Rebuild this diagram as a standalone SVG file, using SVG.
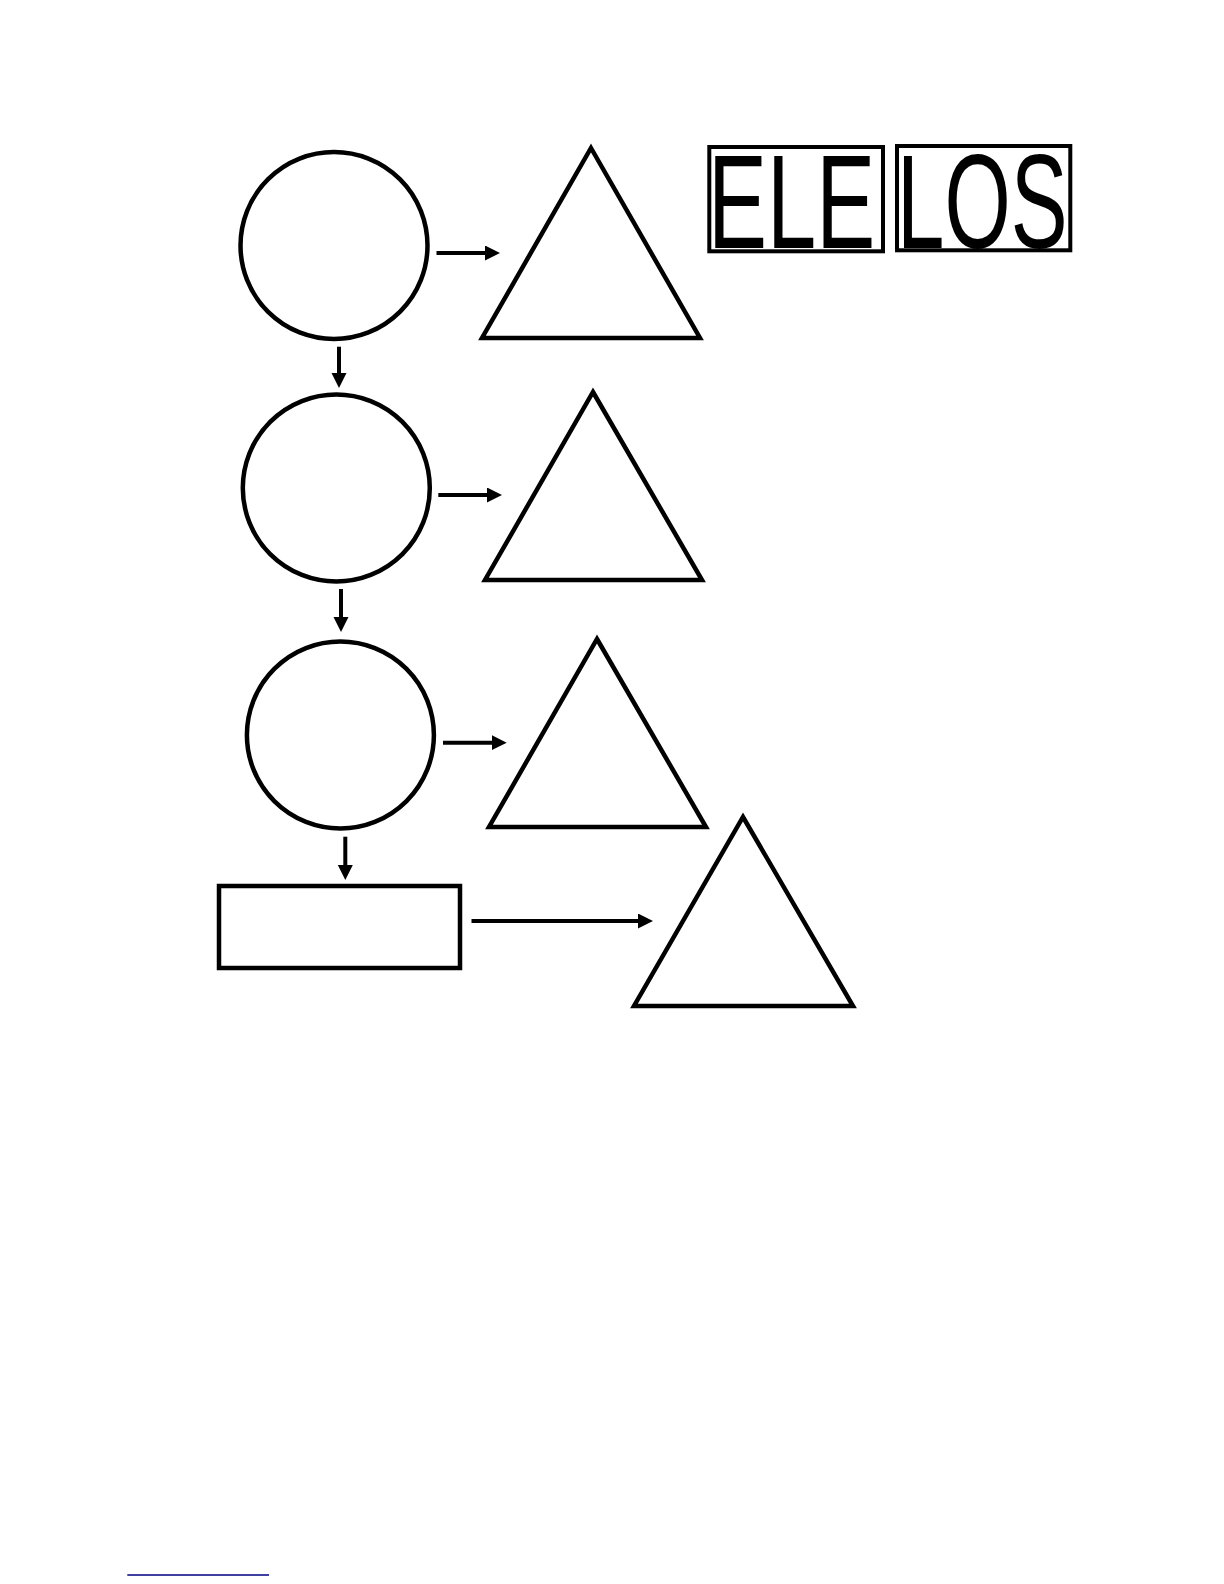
<svg xmlns="http://www.w3.org/2000/svg" width="1224" height="1584" viewBox="0 0 1224 1584">
  <defs>
    <marker id="arrow" markerUnits="userSpaceOnUse" markerWidth="18" markerHeight="16" refX="3" refY="7.5" orient="auto">
      <path d="M0,0 L15,7.5 L0,15 z" fill="#000"/>
    </marker>
    <style>
      .shape { fill: #fff; stroke: #000; stroke-width: 4.5; }
      .conn { stroke: #000; stroke-width: 4; fill: none; marker-end: url(#arrow); }
      .box { fill: #fff; stroke: #000; stroke-width: 4; }
      .seg { font-family: "Liberation Sans", Arial, sans-serif; font-size: 134px; fill: #000; }
    </style>
  </defs>
  <rect width="1224" height="1584" fill="#fff"/>

  <g id="circle1"><circle class="shape" cx="334" cy="245.5" r="93.5"/></g>
  <g id="circle2"><circle class="shape" cx="336.3" cy="488" r="93.5"/></g>
  <g id="circle3"><circle class="shape" cx="340.4" cy="735" r="93.5"/></g>
  <g id="box1"><rect class="shape" x="219" y="886" width="241" height="82"/></g>

  <g id="triangle1"><polygon class="shape" points="591,148 700,338 482,338"/></g>
  <g id="triangle2"><polygon class="shape" points="593,392 702,580 485,580"/></g>
  <g id="triangle3"><polygon class="shape" points="597,639 706,827 489,827"/></g>
  <g id="triangle4"><polygon class="shape" points="743,817 853,1006 634,1006"/></g>

  <g id="label-ele">
    <rect class="box" x="709.3" y="147" width="173.7" height="104.3"/>
    <text class="seg" transform="translate(708,248) scale(0.66,1)" x="0" y="0">ELE</text>
  </g>
  <g id="label-los">
    <rect class="box" x="897" y="146" width="173.3" height="104.3"/>
    <text class="seg" transform="translate(897,248) scale(0.636,1)" x="0" y="0">LOS</text>
  </g>

  <g id="connectors">
    <line class="conn" x1="436.5" y1="253" x2="488" y2="253"/>
    <line class="conn" x1="438.3" y1="495" x2="490" y2="495"/>
    <line class="conn" x1="443" y1="742.7" x2="494.7" y2="742.7"/>
    <line class="conn" x1="471.5" y1="921" x2="641" y2="921"/>
    <line class="conn" x1="339" y1="346.7" x2="339" y2="376"/>
    <line class="conn" x1="341" y1="589" x2="341" y2="620"/>
    <line class="conn" x1="345.3" y1="836.7" x2="345.3" y2="868"/>
  </g>

  <line x1="127.3" y1="1575" x2="269" y2="1575" stroke="#000080" stroke-width="1.5"/>
</svg>
